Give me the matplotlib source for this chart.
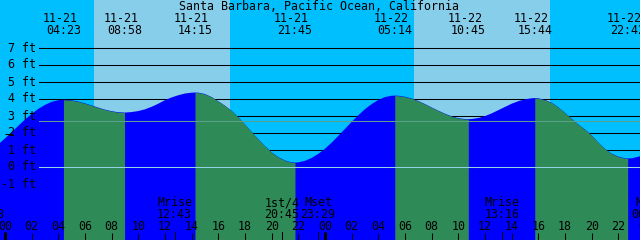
import matplotlib
matplotlib.use("Agg")
import matplotlib.pyplot as plt

# ---------------- data ----------------
title = "Santa Barbara, Pacific Ocean, California"

# half-hourly tide heights (ft), hours counted from 11-21 00:00 (starting at -1 h)
sample_ft = [1.03, 1.35, 1.70, 2.07, 2.44, 2.81, 3.14, 3.44, 3.67, 3.85,
             3.95, 3.97, 3.94, 3.87, 3.76, 3.64, 3.51, 3.39, 3.30, 3.24,
             3.22, 3.25, 3.31, 3.41, 3.56, 3.74, 3.95, 4.11, 4.24, 4.34,
             4.39, 4.39, 4.31, 4.13, 3.88, 3.62, 3.32, 2.94, 2.52, 2.08,
             1.64, 1.24, 0.88, 0.60, 0.40, 0.29, 0.29, 0.38, 0.55, 0.79,
             1.09, 1.45, 1.85, 2.26, 2.67, 3.06, 3.42, 3.72, 3.96, 4.13,
             4.21, 4.21, 4.15, 4.05, 3.90, 3.72, 3.52, 3.33, 3.15, 3.00,
             2.89, 2.84, 2.84, 2.90, 3.01, 3.17, 3.36, 3.55, 3.74, 3.89,
             4.00, 4.06, 4.06, 3.96, 3.80, 3.53, 3.20, 2.86, 2.52, 2.22,
             1.88, 1.45, 1.08, 0.80, 0.63, 0.53, 0.53, 0.62, 0.77]
sample_hours = [-1 + 0.5 * i for i in range(len(sample_ft))]

# high / low tide extremes
ext_hours = [-3.08, 4.383, 8.967, 14.25, 21.75, 29.233, 34.75, 39.733, 46.7, 54.5]
ext_ft = [0.39, 3.97, 3.22, 4.40, 0.28, 4.22, 2.83, 4.07, 0.52, 4.30]
ext_date = [None, "11-21", "11-21", "11-21", "11-21", "11-22", "11-22", "11-22", "11-22", None]
ext_time = [None, "04:23", "08:58", "14:15", "21:45", "05:14", "10:45", "15:44", "22:42", None]

# daylight
sunrise_hours = [6.67, 30.68]
sunset_hours = [16.87, 40.87]

# moon events
moon_hours = [-1.367, 12.717, 20.75, 23.483, 37.267, 48.317]
moon_name = ["Mset", "Mrise", "1st/4", "Mset", "Mrise", "Mset"]
moon_time = ["22:38", "12:43", "20:45", "23:29", "13:16", "00:19"]

# hour axis
hour_ticks = list(range(0, 50, 2))
hour_labels = ["%02d" % (h % 24) for h in hour_ticks]

# reference levels (ft)
grid_ft = [7, 6, 5, 4, 3, 2, 1, 0, -1]
grid_labels = ["7 ft", "6 ft", "5 ft", "4 ft", "3 ft", "2 ft", "1 ft", "0 ft", "-1 ft"]
msl_ft = 2.74
datum_ft = 0.0

# ---------------- styling ----------------
NIGHT = "#00BFFF"
DAY = "#87CEEB"
RISE = "#0000FF"
FALL = "#2E8B57"
MSL_C = "#5aa08c"
DATUM_C = "#93d3e6"
FONT = "DejaVu Sans Mono"
FS = 8.4
LW = 0.75

W, H = 640, 240
PX_PER_HR = 13.333
X0 = 5.0          # pixel of 11-21 00:00
Y0 = 167.3        # pixel of 0 ft
PX_PER_FT = 17.0


def ft_of(ypx):
    return (Y0 - ypx) / PX_PER_FT


def hr_of(xpx):
    return (xpx - X0) / PX_PER_HR


fig = plt.figure(figsize=(W / 100, H / 100), dpi=100)
fig.patch.set_facecolor(NIGHT)
ax = fig.add_axes([0, 0, 1, 1])
ax.set_facecolor(NIGHT)
ax.set_xlim(hr_of(0), hr_of(W))
ax.set_ylim(ft_of(H), ft_of(0))
for s in ax.spines.values():
    s.set_visible(False)
ax.set_xticks([])
ax.set_yticks([])

# daylight bands
for r, s in zip(sunrise_hours, sunset_hours):
    ax.axvspan(r, s, color=DAY, lw=0, zorder=0)

# black level lines (behind the tide)
gx0 = 39 / W
for f in grid_ft:
    ax.axhline(f, xmin=gx0, xmax=1, color="black", lw=LW, zorder=1)

# tide curve
pts = sorted(zip(sample_hours + ext_hours, sample_ft + ext_ft))
ts = [p[0] for p in pts]
hs = [p[1] for p in pts]
bottom = ft_of(H + 20)
ax.fill_between(ts, hs, bottom, color=RISE, lw=0, zorder=2)
for i in range(len(ext_hours) - 1):
    ta, tb = ext_hours[i], ext_hours[i + 1]
    if ext_ft[i] > ext_ft[i + 1]:
        seg = [(t, h) for t, h in pts if ta <= t <= tb]
        ax.fill_between([p[0] for p in seg], [p[1] for p in seg], bottom,
                        color=FALL, lw=0, zorder=3)

# MSL and datum lines on top
ax.axhline(msl_ft, xmin=gx0, xmax=1, color=MSL_C, lw=LW, zorder=4)
ax.axhline(datum_ft, xmin=gx0, xmax=1, color=DATUM_C, lw=LW, zorder=4)

# level labels
for f, lab in zip(grid_ft, grid_labels):
    ax.text(hr_of(36), f - 3.2 / PX_PER_FT, lab,
            ha="right", va="baseline", family=FONT, fontsize=FS, zorder=10)

# small mark at the left
ax.plot([hr_of(5), hr_of(13.5)], [ft_of(134), ft_of(134)], color="black",
        lw=LW, zorder=10, solid_capstyle="butt")

# title
ax.text(hr_of(319.5), ft_of(10), title, ha="center", va="baseline",
        family=FONT, fontsize=FS, zorder=10)

# tide time labels
for h, d, tm in zip(ext_hours, ext_date, ext_time):
    if d is None:
        continue
    ax.annotate(d, xy=(h, ft_of(21.7)), xytext=(-3.5, 0), textcoords="offset pixels",
                ha="center", va="baseline", family=FONT, fontsize=FS, zorder=10,
                annotation_clip=False)
    ax.text(h, ft_of(33.7), tm, ha="center", va="baseline", family=FONT,
            fontsize=FS, zorder=10)

# moon labels
for h, n, tm in zip(moon_hours, moon_name, moon_time):
    ax.text(h, ft_of(206), n, ha="center", va="baseline", family=FONT, fontsize=FS, zorder=10)
    ax.text(h, ft_of(218), tm, ha="center", va="baseline", family=FONT, fontsize=FS, zorder=10)
    ax.plot([h, h], [ft_of(232), ft_of(241)], color="black", lw=LW, zorder=9)

# hour labels & ticks
for h, lab in zip(hour_ticks, hour_labels):
    ax.text(h, ft_of(229.5), lab, ha="center", va="baseline", family=FONT,
            fontsize=FS, zorder=10)
    top = 231.7 if h % 24 == 0 else 232.5
    ax.plot([h, h], [ft_of(top), ft_of(241)], color="black",
            lw=2.2 if h % 24 == 0 else LW, zorder=9, solid_capstyle="butt")

fig.savefig("out.png", dpi=100, facecolor=NIGHT)
